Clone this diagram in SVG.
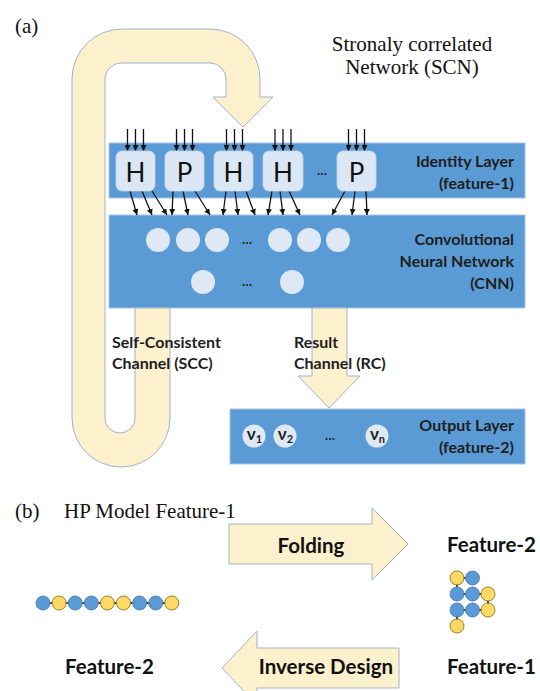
<svg xmlns="http://www.w3.org/2000/svg" width="540" height="691" viewBox="0 0 540 691">
<style>
.serif{font-family:"Liberation Serif","Times New Roman",serif;font-size:21px;fill:#111}
.lbl{font-family:Lato,"Open Sans","Liberation Sans",sans-serif;font-size:16px;font-weight:700;fill:#1e1e1e}
.nu{font-family:Lato,"Open Sans","Liberation Sans",sans-serif;font-size:17px;font-weight:700;fill:#1e1e1e;text-anchor:middle}
.big{font-family:Lato,"Open Sans","Liberation Sans",sans-serif;font-size:20.5px;font-weight:700;fill:#111}
.letter{font-family:Lato,"Open Sans","Liberation Sans",sans-serif;font-size:26px;fill:#111;text-anchor:middle}
.dots{font-family:Lato,"Liberation Sans",sans-serif;font-size:13px;font-weight:700;fill:#1e1e1e;text-anchor:middle}
.layer{fill:#5b9bd5;stroke:#a9c3e3;stroke-width:1}
.box{fill:#dce7f5;stroke:#c4d5ec;stroke-width:0.8}
.neuron{fill:#dfe9f6}
.band{fill:#fdf0cc;stroke:#9fb4c9;stroke-width:1}
.arr{stroke:#111;stroke-width:1.3;fill:none;marker-end:url(#ah)}
.hb{fill:#5b9bd5;stroke:#3f74a8;stroke-width:0.8}
.hy{fill:#ffd966;stroke:#7a6310;stroke-width:0.8}
.bond{stroke:#111;stroke-width:1.6;fill:none}
</style>
<defs>
<marker id="ah" markerWidth="6" markerHeight="6" refX="6" refY="3" orient="auto" markerUnits="userSpaceOnUse"><path d="M0,0 L6,3 L0,6 z" fill="#111"/></marker>
</defs>
<rect width="540" height="691" fill="#fff"/>

<text class="serif" x="15" y="33">(a)</text>
<text class="serif" x="412" y="51" text-anchor="middle" font-size="20.5">Stronaly correlated</text>
<text class="serif" x="412" y="73.5" text-anchor="middle" font-size="20.5">Network (SCN)</text>

<g id="identity-layer">
<rect class="layer" x="109" y="143" width="416" height="55"/>
<text class="lbl" x="514" y="167" text-anchor="end">Identity Layer</text>
<text class="lbl" x="514" y="189" text-anchor="end">(feature-1)</text>
</g>
<g id="cnn">
<rect class="layer" x="109" y="215" width="416" height="93"/>
<circle class="neuron" cx="158" cy="240" r="12"/>
<circle class="neuron" cx="188" cy="240" r="12"/>
<circle class="neuron" cx="217" cy="240" r="12"/>
<text class="dots" x="247" y="244">…</text>
<circle class="neuron" cx="280" cy="240" r="12"/>
<circle class="neuron" cx="309" cy="240" r="12"/>
<circle class="neuron" cx="338" cy="240" r="12"/>
<circle class="neuron" cx="203" cy="282" r="12"/>
<text class="dots" x="247" y="286">…</text>
<circle class="neuron" cx="292" cy="282" r="12"/>
<text class="lbl" x="514" y="245" text-anchor="end">Convolutional</text>
<text class="lbl" x="514" y="267" text-anchor="end">Neural Network</text>
<text class="lbl" x="514" y="289" text-anchor="end">(CNN)</text>
</g>
<g id="output-layer">
<rect class="layer" x="230" y="409" width="295" height="55"/>
<circle class="neuron" cx="254" cy="436" r="11.5"/>
<circle class="neuron" cx="285" cy="436" r="11.5"/>
<text class="dots" x="330" y="440">…</text>
<circle class="neuron" cx="377" cy="436" r="11.5"/>
<text class="nu" x="254.5" y="440">ν<tspan font-size="11" dy="3">1</tspan></text>
<text class="nu" x="285.5" y="440">ν<tspan font-size="11" dy="3">2</tspan></text>
<text class="nu" x="377.5" y="440">ν<tspan font-size="11" dy="3">n</tspan></text>
<text class="lbl" x="514" y="431" text-anchor="end">Output Layer</text>
<text class="lbl" x="514" y="453" text-anchor="end">(feature-2)</text>
</g>

<g id="connectors">
<path id="scc-loop" class="band" d="M170 308 L170 418 A49 49 0 0 1 72 418 L72 79 A50 50 0 0 1 122 29 L210 29 A50 50 0 0 1 260 79 L260 97 L273 97 L243 127 L213 97 L226 97 L226 79 A16 16 0 0 0 210 63 L122 63 A17 16 0 0 0 105 79 L105 418 A15 15 0 0 0 135 418 L135 308 Z"/>
<path id="rc-arrow" class="band" d="M312 308 L347 308 L347 376 L360 376 L329 408 L298 376 L312 376 Z"/>
<g id="input-arrows">
<line class="arr" x1="127.5" y1="129" x2="127.5" y2="151"/><line class="arr" x1="135.5" y1="129" x2="135.5" y2="151"/><line class="arr" x1="143.5" y1="129" x2="143.5" y2="151"/>
<line class="arr" x1="176.5" y1="129" x2="176.5" y2="151"/><line class="arr" x1="184.5" y1="129" x2="184.5" y2="151"/><line class="arr" x1="192.5" y1="129" x2="192.5" y2="151"/>
<line class="arr" x1="226.5" y1="129" x2="226.5" y2="151"/><line class="arr" x1="234.5" y1="129" x2="234.5" y2="151"/><line class="arr" x1="242.5" y1="129" x2="242.5" y2="151"/>
<line class="arr" x1="275" y1="129" x2="275" y2="151"/><line class="arr" x1="283" y1="129" x2="283" y2="151"/><line class="arr" x1="291" y1="129" x2="291" y2="151"/>
<line class="arr" x1="348.5" y1="129" x2="348.5" y2="151"/><line class="arr" x1="356.5" y1="129" x2="356.5" y2="151"/><line class="arr" x1="364.5" y1="129" x2="364.5" y2="151"/>
</g>
<g id="conv-arrows">
<line class="arr" x1="130" y1="191" x2="137" y2="215"/><line class="arr" x1="142" y1="191" x2="152" y2="215"/><line class="arr" x1="152" y1="191" x2="167" y2="215"/>
<line class="arr" x1="173" y1="191" x2="172" y2="215"/><line class="arr" x1="183" y1="191" x2="188" y2="215"/><line class="arr" x1="195" y1="191" x2="210" y2="215"/>
<line class="arr" x1="226" y1="191" x2="223" y2="215"/><line class="arr" x1="235" y1="191" x2="238" y2="215"/><line class="arr" x1="246" y1="191" x2="255" y2="215"/>
<line class="arr" x1="272" y1="191" x2="268" y2="215"/><line class="arr" x1="280" y1="191" x2="283" y2="215"/><line class="arr" x1="289" y1="191" x2="300" y2="215"/>
<line class="arr" x1="345" y1="191" x2="332" y2="215"/><line class="arr" x1="355" y1="191" x2="352" y2="215"/><line class="arr" x1="366" y1="191" x2="367" y2="215"/>
</g>
</g>

<g id="node-h1"><rect class="box" x="116" y="151" width="39" height="40" rx="6"/><text class="letter" x="135.5" y="182">H</text></g>
<g id="node-p1"><rect class="box" x="165" y="151" width="39" height="40" rx="6"/><text class="letter" x="184.5" y="182">P</text></g>
<g id="node-h2"><rect class="box" x="214" y="151" width="39" height="40" rx="6"/><text class="letter" x="233.5" y="182">H</text></g>
<g id="node-h3"><rect class="box" x="263" y="151" width="40" height="40" rx="6"/><text class="letter" x="283" y="182">H</text></g>
<text class="dots" x="322" y="175">…</text>
<g id="node-p2"><rect class="box" x="337" y="151" width="39" height="40" rx="6"/><text class="letter" x="356.5" y="182">P</text></g>

<g id="scc-label">
<text class="lbl" x="112" y="348">Self-Consistent</text>
<text class="lbl" x="112" y="369">Channel (SCC)</text>
</g>
<g id="rc-label">
<text class="lbl" x="294" y="348">Result</text>
<text class="lbl" x="294" y="369">Channel (RC)</text>
</g>

<text class="serif" x="15" y="518">(b)</text>
<text class="serif" x="64" y="518">HP Model Feature-1</text>

<g id="folding-arrow">
<path class="band" d="M229 524 L372 524 L372 508 L408 544 L372 580 L372 564 L229 564 Z"/>
<text class="big" x="311" y="553" text-anchor="middle">Folding</text>
</g>
<g id="inverse-arrow">
<path class="band" d="M399 648 L257 648 L257 631 L222 668 L257 705 L257 688 L399 688 Z"/>
<text class="big" x="326" y="674" text-anchor="middle">Inverse Design</text>
</g>

<text class="big" x="447" y="552">Feature-2</text>
<text class="big" x="65" y="674">Feature-2</text>
<text class="big" x="447" y="674">Feature-1</text>

<g id="chain-linear">
<line class="bond" x1="43" y1="603" x2="172" y2="603"/>
<circle class="hb" cx="43" cy="603" r="7"/>
<circle class="hy" cx="59.1" cy="603" r="7"/>
<circle class="hb" cx="75.2" cy="603" r="7"/>
<circle class="hb" cx="91.3" cy="603" r="7"/>
<circle class="hy" cx="107.4" cy="603" r="7"/>
<circle class="hy" cx="123.5" cy="603" r="7"/>
<circle class="hb" cx="139.6" cy="603" r="7"/>
<circle class="hb" cx="155.7" cy="603" r="7"/>
<circle class="hy" cx="171.8" cy="603" r="7"/>
</g>
<g id="chain-folded">
<polyline class="bond" points="457,626 457,610 472.5,610 488,610 488,594 472.5,594 457,594 457,578 472.5,578"/>
<circle class="hy" cx="457" cy="626" r="7"/>
<circle class="hb" cx="457" cy="610" r="7"/>
<circle class="hb" cx="472.5" cy="610" r="7"/>
<circle class="hy" cx="488" cy="610" r="7"/>
<circle class="hy" cx="488" cy="594" r="7"/>
<circle class="hb" cx="472.5" cy="594" r="7"/>
<circle class="hb" cx="457" cy="594" r="7"/>
<circle class="hy" cx="457" cy="578" r="7"/>
<circle class="hb" cx="472.5" cy="578" r="7"/>
</g>
</svg>
